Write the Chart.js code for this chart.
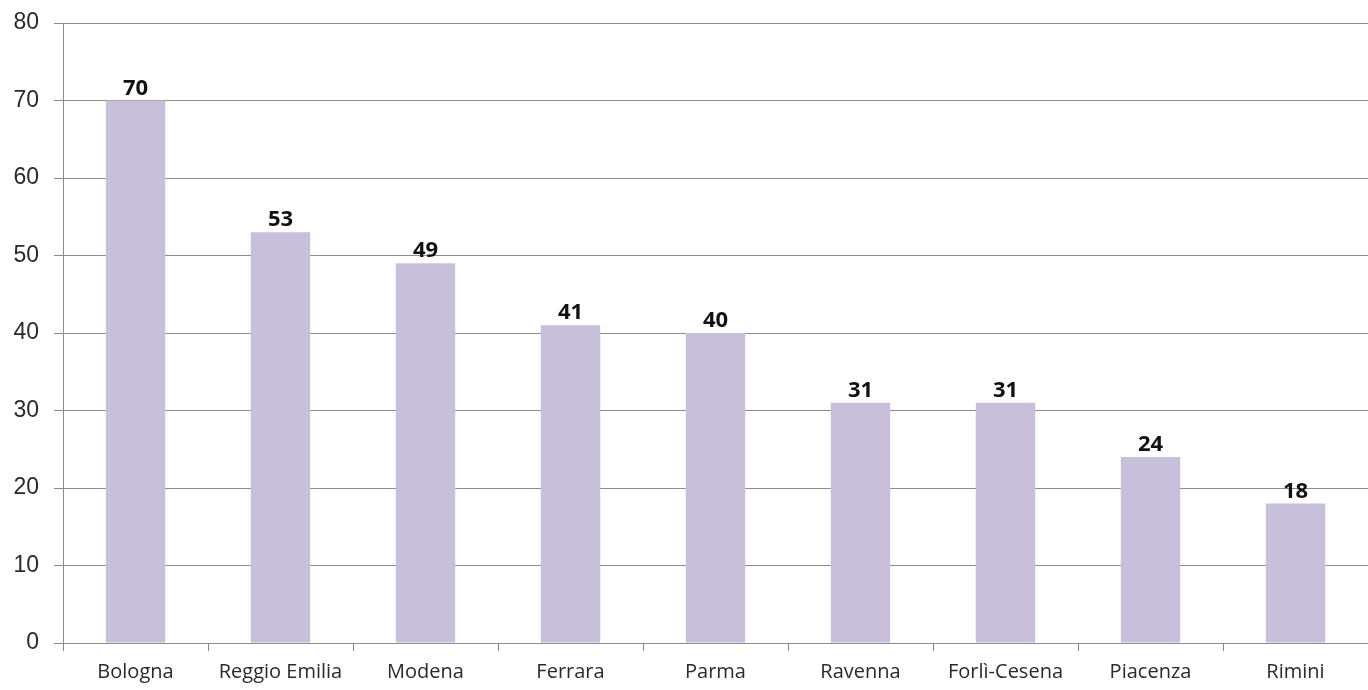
<!DOCTYPE html>
<html>
<head>
<meta charset="utf-8">
<script src="https://cdn.jsdelivr.net/npm/chart.js@4"></script>
<style>
  html, body { margin: 0; padding: 0; background: #fff; }
  #wrap { width: 1368px; height: 690px; }
</style>
</head>
<body>
<div id="wrap"><canvas id="myChart" width="1368" height="690"></canvas></div>
<script>
// province names and counts
let provinces = ['Bologna', 'Reggio Emilia', 'Modena', 'Ferrara', 'Parma', 'Ravenna', 'Forlì-Cesena', 'Piacenza', 'Rimini'];
let counts = [70, 53, 49, 41, 40, 31, 31, 24, 18];
let yTicks = [0, 10, 20, 30, 40, 50, 60, 70, 80];

// numbers above the bars
let barLabels = {
    id: 'barLabels',
    afterDatasetsDraw(chart) {
        let ctx = chart.ctx;
        let meta = chart.getDatasetMeta(0);
        ctx.save();
        ctx.font = 'bold 22px "Open Sans", "Liberation Sans", sans-serif';
        ctx.fillStyle = '#111';
        ctx.textAlign = 'center';
        ctx.textBaseline = 'alphabetic';
        meta.data.forEach((bar, i) => {
            ctx.fillText(counts[i], bar.x, bar.y - 6);
        });
        ctx.restore();
    }
};

let myChart = document.getElementById('myChart').getContext('2d');

let provChart = new Chart(myChart, {
    type: 'bar',
    data: {
        labels: provinces,
        datasets: [{
            data: counts,
            backgroundColor: '#C8C0DB',
            barPercentage: 0.41,
            categoryPercentage: 1
        }]
    },
    options: {
        responsive: false,
        animation: false,
        layout: { padding: { top: 23, right: 0, left: 0, bottom: 0 } },
        plugins: {
            legend: { display: false },
            tooltip: { enabled: false }
        },
        scales: {
            x: {
                offset: true,
                grid: {
                    offset: true,
                    drawOnChartArea: false,
                    drawTicks: true,
                    tickLength: 8,
                    color: '#888'
                },
                border: { display: false },
                ticks: {
                    color: '#2a2a2a',
                    font: { size: 20, family: '"Open Sans", "Liberation Sans", sans-serif' },
                    padding: 9,
                    maxRotation: 0,
                    autoSkip: false
                },
                afterFit(scale) { scale.height = 47; }
            },
            y: {
                min: 0,
                max: 80,
                afterBuildTicks(scale) { scale.ticks = yTicks.map(v => ({ value: v })); },
                grid: {
                    color: '#8c8c8c',
                    lineWidth: 1,
                    tickLength: 9
                },
                border: { color: '#8c8c8c' },
                ticks: {
                    color: '#2a2a2a',
                    font: { size: 23, family: '"Liberation Sans", Arial, sans-serif' },
                    padding: 15
                },
                afterFit(scale) {
                    scale.width = 63;
                    scale.paddingTop = 0;
                    scale.paddingBottom = 0;
                }
            }
        }
    },
    plugins: [barLabels]
});
</script>
</body>
</html>
